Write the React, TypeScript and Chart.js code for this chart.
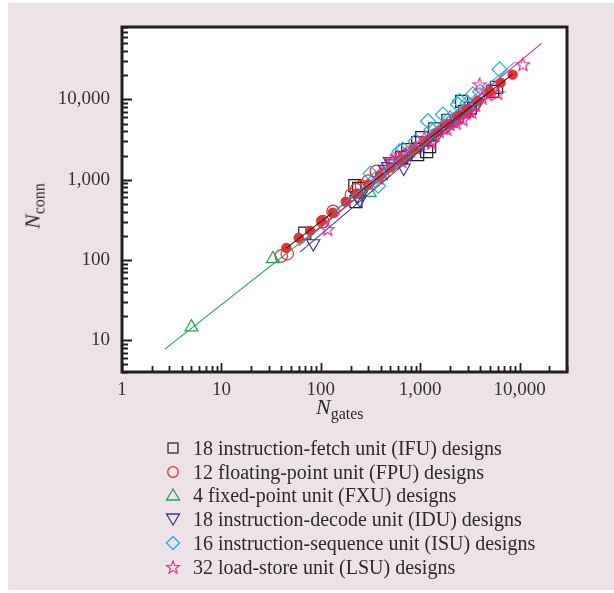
import React, { useEffect, useRef } from 'react';
import { Chart, registerables } from 'chart.js';

Chart.register(...registerables);

// ---------- data ----------
const IFU_POINTS: [number, number][] = [
  [69, 215], [220, 841], [226, 531], [240, 780], [650, 1900], [749, 2371],
  [944, 2900], [944, 2054], [1036, 3350], [1162, 2240], [1245, 2585], [1400, 4300],
  [1900, 5500], [2613, 9440], [2800, 7080], [3200, 7800], [5350, 12590], [5870, 14130],
];
const FPU_POINTS: [number, number][] = [
  [40, 112], [46, 119], [105, 300], [133, 402], [203, 649], [228, 750],
  [257, 825], [300, 960], [363, 1270], [420, 1150], [555, 1616], [700, 1950],
];
const FXU_POINTS: [number, number][] = [
  [5, 14.5], [33, 103], [310, 690], [2700, 7000],
];
const IDU_POINTS: [number, number][] = [
  [84, 160], [230, 620], [247, 562], [260, 680], [440, 1350], [474, 1466],
  [494, 1694], [520, 1580], [683, 1400], [800, 2100], [1000, 2600], [1200, 3100],
  [1500, 3700], [1900, 4800], [2300, 5600], [2600, 6200], [3100, 7400], [3800, 9000],
];
const ISU_POINTS: [number, number][] = [
  [316, 1189], [350, 1000], [377, 841], [622, 2260], [670, 2370], [900, 3000],
  [1199, 5354], [1300, 4200], [1694, 6494], [2000, 5800], [2399, 8660], [2494, 9530],
  [3000, 9000], [3390, 11550], [4000, 12500], [6300, 23700],
];
const LSU_POINTS: [number, number][] = [
  [117, 242], [380, 1050], [420, 1200], [514, 1778], [594, 1940], [650, 1700],
  [720, 2100], [800, 2300], [900, 2500], [1000, 2800], [1100, 3300], [1245, 3162],
  [1297, 2876], [1400, 3600], [1550, 4000], [1700, 4400], [1850, 4300], [2000, 4900],
  [2150, 5400], [2312, 5112], [2500, 6000], [2693, 5623], [2900, 6800], [3100, 7200],
  [3300, 7000], [3600, 8500], [3960, 15400], [4200, 10500], [4800, 11550], [5200, 12500],
  [6000, 12000], [10800, 27380],
];
// filled red markers along the overall trend
const TREND_DOTS: [number, number][] = [
  [45, 141], [60, 188], [78, 230], [102, 307], [132, 387], [178, 531],
  [230, 668], [303, 871], [392, 1109], [505, 1413], [652, 1810], [861, 2344],
  [1110, 3010], [1432, 3836], [1846, 4900], [2382, 6250], [2933, 7500], [3784, 9550],
  [4990, 12600], [6440, 16200], [8510, 20400],
];
// fitted power-law lines (end points)
const IFU_FIT: [number, number][] = [[45, 140], [8500, 20500]];
const FXU_FIT: [number, number][] = [[2.7, 7.7], [4000, 9500]];
const IDU_FIT: [number, number][] = [[62, 126], [5000, 12500]];
const ISU_FIT: [number, number][] = [[130, 380], [8900, 29000]];
const LSU_FIT: [number, number][] = [[60, 150], [16600, 50000]];

const X_DECADES = [1, 10, 100, 1000, 10000];
const X_LABELS = ['1', '10', '100', '1,000', '10,000'];
const Y_DECADES = [10, 100, 1000, 10000];
const Y_LABELS = ['10', '100', '1,000', '10,000'];
const X_RANGE = [1, 30000];
const Y_RANGE = [4, 80000];

const LEGEND_LABELS = [
  '18 instruction-fetch unit (IFU) designs',
  '12 floating-point unit (FPU) designs',
  '4 fixed-point unit (FXU) designs',
  '18 instruction-decode unit (IDU) designs',
  '16 instruction-sequence unit (ISU) designs',
  '32 load-store unit (LSU) designs',
];

// ---------- styling ----------
const C_BLACK = '#231f20';
const C_RED = '#e8302e';
const C_GREEN = '#1fa84f';
const C_BLUE = '#3b3a96';
const C_CYAN = '#27aee3';
const C_PINK = '#e5268c';
const PANEL = '#ede2e8';
const FONT = '"Liberation Serif", "Times New Roman", serif';

const pts = (a: [number, number][]) => a.map(([x, y]) => ({ x, y }));

function logTicks(min: number, max: number) {
  const out: { value: number }[] = [];
  for (let e = -1; e < 6; e++) {
    for (let m = 1; m < 10; m++) {
      const v = m * Math.pow(10, e);
      if (v >= min * (1 - 1e-9) && v <= max * (1 + 1e-9)) out.push({ value: v });
    }
  }
  return out;
}
const isDecade = (v: number) => Math.abs(Math.log10(v) - Math.round(Math.log10(v))) < 1e-9;

function makeStar(color: string, R: number, r: number, lw: number) {
  const size = Math.ceil(2 * R + 4);
  const c = document.createElement('canvas');
  c.width = size;
  c.height = size;
  const ctx = c.getContext('2d')!;
  ctx.beginPath();
  for (let i = 0; i < 10; i++) {
    const ang = -Math.PI / 2 + (i * Math.PI) / 5;
    const rad = i % 2 === 0 ? R : r;
    const px = size / 2 + rad * Math.cos(ang);
    const py = size / 2 + 0.6 + rad * Math.sin(ang);
    if (i === 0) ctx.moveTo(px, py);
    else ctx.lineTo(px, py);
  }
  ctx.closePath();
  ctx.strokeStyle = color;
  ctx.lineWidth = lw;
  ctx.stroke();
  return c;
}

const framePlugin = {
  id: 'frameTicks',
  beforeDraw(chart: any) {
    const { ctx, chartArea: a } = chart;
    ctx.save();
    ctx.fillStyle = '#ffffff';
    ctx.fillRect(a.left, a.top, a.right - a.left, a.bottom - a.top);
    ctx.restore();
  },
  afterDraw(chart: any) {
    const { ctx, chartArea: a } = chart;
    const xs = chart.scales.x;
    const ys = chart.scales.y;
    ctx.save();
    ctx.strokeStyle = C_BLACK;
    ctx.lineWidth = 1.8;
    ctx.beginPath();
    xs.ticks.forEach((t: any) => {
      const px = Math.round(xs.getPixelForValue(t.value)) + 0.5;
      const len = isDecade(t.value) ? 9 : 6;
      ctx.moveTo(px, a.bottom);
      ctx.lineTo(px, a.bottom - len);
    });
    ys.ticks.forEach((t: any) => {
      const py = Math.round(ys.getPixelForValue(t.value)) + 0.5;
      const len = isDecade(t.value) ? 10 : 6;
      ctx.moveTo(a.left, py);
      ctx.lineTo(a.left + len, py);
    });
    ctx.stroke();
    ctx.lineWidth = 3;
    ctx.strokeRect(a.left, a.top, a.right - a.left, a.bottom - a.top);
    ctx.restore();
  },
};

function LegendMarker({ kind }: { kind: number }) {
  const s = 16;
  const c = s / 2;
  let el: any = null;
  if (kind === 0) el = <rect x={c - 5} y={c - 5} width={10} height={10} fill="none" stroke={C_BLACK} strokeWidth={1.2} />;
  if (kind === 1) el = <circle cx={c} cy={c} r={5.3} fill="none" stroke={C_RED} strokeWidth={1.3} />;
  if (kind === 2) el = <polygon points={`${c},${c - 6} ${c + 6.5},${c + 5} ${c - 6.5},${c + 5}`} fill="none" stroke={C_GREEN} strokeWidth={1.3} />;
  if (kind === 3) el = <polygon points={`${c - 6.5},${c - 5} ${c + 6.5},${c - 5} ${c},${c + 6}`} fill="none" stroke={C_BLUE} strokeWidth={1.3} />;
  if (kind === 4) el = <polygon points={`${c},${c - 6.5} ${c + 6.5},${c} ${c},${c + 6.5} ${c - 6.5},${c}`} fill="none" stroke={C_CYAN} strokeWidth={1.3} />;
  if (kind === 5) {
    const p: string[] = [];
    for (let i = 0; i < 10; i++) {
      const ang = -Math.PI / 2 + (i * Math.PI) / 5;
      const rad = i % 2 === 0 ? 6.8 : 2.8;
      p.push(`${(c + rad * Math.cos(ang)).toFixed(2)},${(c + 0.6 + rad * Math.sin(ang)).toFixed(2)}`);
    }
    el = <polygon points={p.join(' ')} fill="none" stroke={C_PINK} strokeWidth={1.1} />;
  }
  return (
    <svg width={s} height={s} style={{ position: 'absolute', left: 165, top: 4 }}>
      {el}
    </svg>
  );
}

export default function App() {
  const ref = useRef<HTMLCanvasElement | null>(null);

  useEffect(() => {
    if (!ref.current) return;
    const star = makeStar(C_PINK, 7, 2.9, 1.1);
    const fit = (data: [number, number][], color: string) => ({
      type: 'scatter' as const,
      data: pts(data),
      showLine: true,
      borderColor: color,
      borderWidth: 1.1,
      pointRadius: 0,
      fill: false,
    });
    const marks = (data: [number, number][], color: string, style: any, radius: number, rotation = 0, fillColor = 'rgba(0,0,0,0)') => ({
      type: 'scatter' as const,
      data: pts(data),
      pointStyle: style,
      pointRadius: radius,
      pointRotation: rotation,
      borderColor: color,
      backgroundColor: fillColor,
      pointBorderWidth: 1.2,
      borderWidth: 1.2,
    });

    const chart = new Chart(ref.current, {
      type: 'scatter',
      data: {
        datasets: [
          fit(LSU_FIT, C_PINK),
          fit(ISU_FIT, C_CYAN),
          fit(IFU_FIT, C_BLACK),
          fit(IDU_FIT, C_BLUE),
          fit(FXU_FIT, C_GREEN),
          marks(TREND_DOTS, C_RED, 'circle', 4.6, 0, C_RED),
          marks(LSU_POINTS, C_PINK, star, 7),
          marks(ISU_POINTS, C_CYAN, 'rectRot', 7.5),
          marks(IDU_POINTS, C_BLUE, 'triangle', 7.5, 180),
          marks(FXU_POINTS, C_GREEN, 'triangle', 7.5),
          marks(FPU_POINTS, C_RED, 'circle', 6.2),
          marks(IFU_POINTS, C_BLACK, 'rect', 8.5),
        ] as any,
      },
      options: {
        responsive: false,
        animation: false,
        events: [],
        layout: { padding: { left: 0, top: 27, right: 47, bottom: 0 } },
        plugins: { legend: { display: false }, tooltip: { enabled: false } },
        scales: {
          x: {
            type: 'logarithmic',
            position: 'bottom',
            min: X_RANGE[0],
            max: X_RANGE[1],
            grid: { display: false, drawTicks: false },
            border: { display: false },
            afterBuildTicks: (s: any) => { s.ticks = logTicks(X_RANGE[0], X_RANGE[1]); },
            afterFit: (s: any) => { s.height = 68; },
            ticks: {
              autoSkip: false,
              maxRotation: 0,
              padding: 7,
              color: '#333333',
              font: { family: FONT, size: 19 },
              callback: (v: any) => {
                const i = X_DECADES.findIndex((d) => Math.abs(d - Number(v)) < 1e-6 * d);
                return i >= 0 ? X_LABELS[i] : '';
              },
            },
          },
          y: {
            type: 'logarithmic',
            position: 'left',
            min: Y_RANGE[0],
            max: Y_RANGE[1],
            grid: { display: false, drawTicks: false },
            border: { display: false },
            afterBuildTicks: (s: any) => { s.ticks = logTicks(Y_RANGE[0], Y_RANGE[1]); },
            afterFit: (s: any) => { s.width = 122; },
            ticks: {
              autoSkip: false,
              padding: 12,
              color: '#333333',
              font: { family: FONT, size: 19 },
              callback: (v: any) => {
                const i = Y_DECADES.findIndex((d) => Math.abs(d - Number(v)) < 1e-6 * d);
                return i >= 0 ? Y_LABELS[i] : '';
              },
            },
          },
        },
      } as any,
      plugins: [framePlugin],
    });
    return () => chart.destroy();
  }, []);

  return (
    <div style={{ position: 'fixed', left: 0, top: 0, width: 614, height: 593, background: '#ffffff', fontFamily: FONT, color: '#2b2b2b' }}>
      <div style={{ position: 'absolute', left: 8, top: 3, width: 606, height: 587, background: PANEL }} />
      <canvas ref={ref} width={614} height={440} style={{ position: 'absolute', left: 0, top: 0, width: 614, height: 440 }} />
      {/* x-axis title */}
      <div style={{ position: 'absolute', left: 316, top: 396, whiteSpace: 'nowrap', lineHeight: '21px' }}>
        <span style={{ fontStyle: 'italic', fontSize: 22 }}>N</span>
        <span style={{ fontSize: 16, position: 'relative', top: 5 }}>gates</span>
      </div>
      {/* y-axis title */}
      <div style={{ position: 'absolute', left: 33, top: 206, whiteSpace: 'nowrap', lineHeight: '21px', transform: 'translate(-50%, -50%) rotate(-90deg)' }}>
        <span style={{ fontStyle: 'italic', fontSize: 22 }}>N</span>
        <span style={{ fontSize: 16, position: 'relative', top: 5 }}>conn</span>
      </div>
      {/* legend */}
      {LEGEND_LABELS.map((label, i) => (
        <div key={label} style={{ position: 'absolute', left: 0, top: 436 + i * 23.7, height: 24, width: 614 }}>
          <LegendMarker kind={i} />
          <span style={{ position: 'absolute', left: 193, top: 0, fontSize: 20, lineHeight: '24px', whiteSpace: 'nowrap' }}>{label}</span>
        </div>
      ))}
    </div>
  );
}
